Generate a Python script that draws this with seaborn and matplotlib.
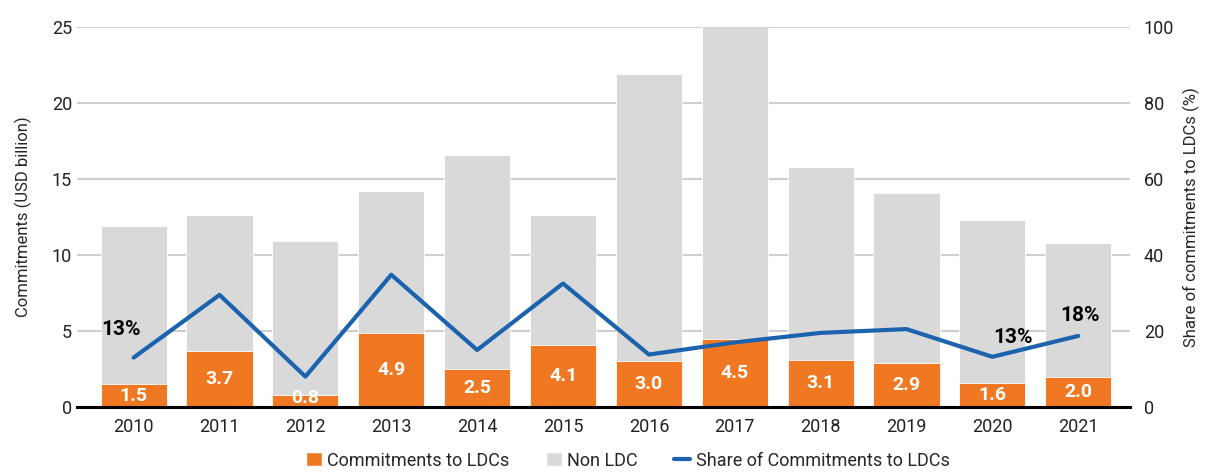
import pandas as pd
import numpy as np
import matplotlib
matplotlib.use("Agg")
import matplotlib.pyplot as plt
import seaborn as sns
from matplotlib.patches import Patch
from matplotlib.lines import Line2D

# datos
years = ["2010", "2011", "2012", "2013", "2014", "2015",
         "2016", "2017", "2018", "2019", "2020", "2021"]
ldc = [1.5, 3.7, 0.8, 4.9, 2.5, 4.1, 3.0, 4.5, 3.1, 2.9, 1.6, 2.0]
total = [11.9, 12.6, 10.9, 14.2, 16.6, 12.6, 21.9, 26.5, 15.8, 14.1, 12.3, 10.8]
share = [13.0, 29.5, 8.0, 34.8, 15.0, 32.5, 13.8, 17.0, 19.5, 20.5, 13.2, 18.7]
share_labels = {0: "13%", 10: "13%", 11: "18%"}

col_ldc = "#F07822"
col_non = "#D9D9D9"
col_line = "#1C63AE"

df = pd.DataFrame({"year": years, "ldc": ldc, "total": total, "share": share})
df["pos"] = np.arange(len(df))

sns.set_theme(style="white")
plt.rcParams["font.family"] = ["Roboto", "DejaVu Sans"]

fig = plt.figure(figsize=(12.07, 4.74), dpi=100)
ax = fig.add_axes([0.0638, 0.1414, 0.8722, 0.8016])

# barras apiladas: total gris detras, LDC naranja delante
sns.barplot(data=df, x="year", y="total", color=col_non, width=0.77,
            edgecolor="white", linewidth=0.6, saturation=1, ax=ax)
sns.barplot(data=df, x="year", y="ldc", color=col_ldc, width=0.77,
            edgecolor="white", linewidth=0.6, saturation=1, ax=ax)

ax.set_ylim(0, 25)
ax.set_xlim(-0.66, 11.6)
ax.set_yticks([0, 5, 10, 15, 20, 25])
ax.yaxis.grid(True, color="#CFCFCF", linewidth=1.5)
ax.set_axisbelow(True)
ax.set_xlabel("")
ax.set_ylabel("Commitments (USD billion)", fontsize=12, labelpad=14)
ax.tick_params(axis="both", length=0, labelsize=13, colors="#222222")
ax.tick_params(axis="x", pad=8)
for s in ["top", "right", "left"]:
    ax.spines[s].set_visible(False)
ax.spines["bottom"].set_color("black")
ax.spines["bottom"].set_linewidth(2.2)

for i, v in enumerate(ldc):
    ax.text(i, max(v / 2, 0.62), f"{v:.1f}", ha="center", va="center",
            color="white", fontsize=14, fontweight="bold")

# eje derecho: participacion
ax2 = ax.twinx()
sns.lineplot(data=df, x="pos", y="share", color=col_line, linewidth=3, ax=ax2)
ax2.set_ylim(0, 100)
ax2.set_yticks([0, 20, 40, 60, 80, 100])
ax2.set_ylabel("Share of commitments to LDCs (%)", fontsize=12, labelpad=6)
ax2.tick_params(axis="y", length=0, labelsize=13, colors="#222222", pad=10)
for s in ["top", "right", "left", "bottom"]:
    ax2.spines[s].set_visible(False)
ax2.grid(False)

offsets = {0: (-0.15, 7.5), 10: (0.24, 5.2), 11: (0.02, 5.3)}
for i, lab in share_labels.items():
    dx, dy = offsets[i]
    ax2.text(i + dx, share[i] + dy, lab, ha="center", va="center",
             fontsize=15, fontweight="bold", color="black")

handles = [
    Patch(facecolor=col_ldc, label="Commitments to LDCs"),
    Patch(facecolor=col_non, label="Non LDC"),
    Line2D([0], [0], color=col_line, linewidth=3, label="Share of Commitments to LDCs"),
]
fig.legend(handles=handles, loc="lower center", ncol=3, frameon=False,
           bbox_to_anchor=(0.52, -0.025), fontsize=13, handlelength=0.9,
           handleheight=0.8, columnspacing=2.0, handletextpad=0.3)

fig.savefig("out.png", dpi=100)
